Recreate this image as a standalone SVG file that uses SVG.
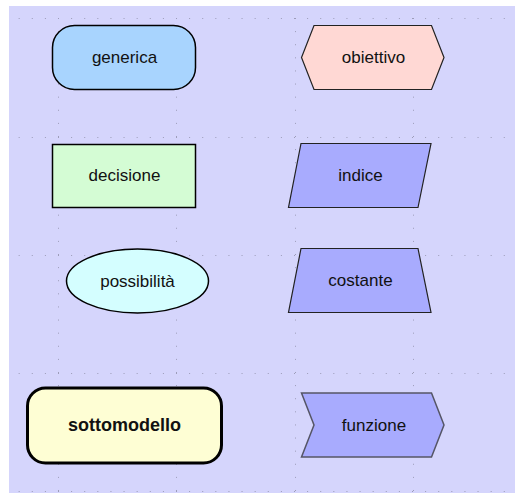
<svg xmlns="http://www.w3.org/2000/svg" width="515" height="493" viewBox="0 0 515 493">
<style>
.grid{stroke:#9c9cb8;stroke-width:1;stroke-dasharray:1 12.111;fill:none}
.lbl{font-family:"Liberation Sans",Arial,sans-serif;font-size:17px;fill:#111;text-anchor:middle}
.bold{font-weight:bold;font-size:18px}
.blk{stroke:#000;stroke-width:1.5}
.poly{stroke:#222;stroke-width:1.2}
</style>
<rect x="9" y="6" width="506" height="487" fill="#d5d5fc"/>
<g id="grid">
<line class="grid" x1="18.67" y1="18.5" x2="515" y2="18.5"/>
<line class="grid" x1="18.67" y1="137.5" x2="515" y2="137.5"/>
<line class="grid" x1="18.67" y1="255.5" x2="515" y2="255.5"/>
<line class="grid" x1="18.67" y1="373.5" x2="515" y2="373.5"/>
<line class="grid" x1="18.67" y1="491.5" x2="515" y2="491.5"/>
<line class="grid" x1="58.5" y1="18" x2="58.5" y2="493"/>
<line class="grid" x1="176.5" y1="18" x2="176.5" y2="493"/>
<line class="grid" x1="295.5" y1="18" x2="295.5" y2="493"/>
<line class="grid" x1="413.5" y1="18" x2="413.5" y2="493"/>
</g>
<g id="connectors"></g>
<g id="generica">
<rect class="blk" x="52.5" y="25.5" width="143" height="64" rx="22" fill="#a8d4fe"/>
<text class="lbl" x="124.5" y="63">generica</text>
</g>
<g id="decisione">
<rect class="blk" x="52.5" y="144.5" width="143" height="63" fill="#d4fcd4"/>
<text class="lbl" x="124.5" y="181">decisione</text>
</g>
<g id="possibilita">
<ellipse class="blk" cx="137.5" cy="281" rx="71" ry="32" fill="#d4feff"/>
<text class="lbl" x="137.5" y="287">possibilità</text>
</g>
<g id="sottomodello">
<rect x="27.5" y="388" width="194" height="75" rx="18" fill="#fefed4" stroke="#000" stroke-width="3"/>
<text class="lbl bold" x="124.5" y="431">sottomodello</text>
</g>
<g id="obiettivo">
<polygon class="poly" points="314,25.5 431.5,25.5 444,57.5 431.5,89.5 314,89.5 301.5,57.5" fill="#ffd8d4"/>
<text class="lbl" x="373.5" y="63">obiettivo</text>
</g>
<g id="indice">
<polygon class="poly" points="301,143.5 431,143.5 418,207.5 288.5,207.5" fill="#a8abfe"/>
<text class="lbl" x="360.5" y="181">indice</text>
</g>
<g id="costante">
<polygon class="poly" points="301,248.5 418,248.5 431,312.5 288.5,312.5" fill="#a8abfe"/>
<text class="lbl" x="360.5" y="286">costante</text>
</g>
<g id="funzione">
<polygon points="301.5,393 431.5,393 444,425 431.5,457 301.5,457 314,425" fill="#a8abfe" stroke="#555566" stroke-width="1.5"/>
<text class="lbl" x="374" y="431">funzione</text>
</g>
</svg>
